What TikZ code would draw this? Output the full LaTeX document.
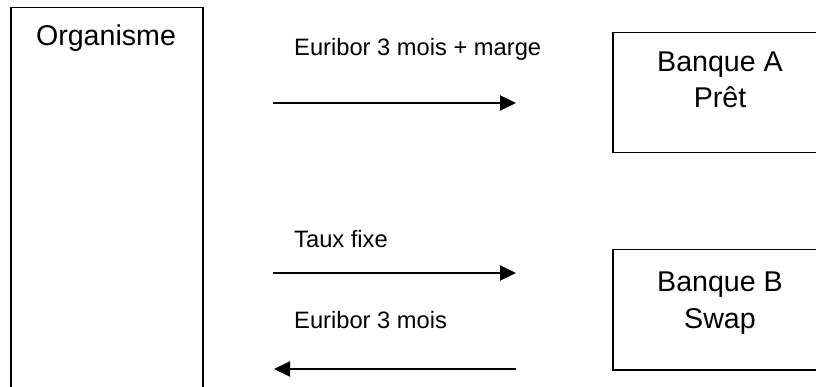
\documentclass[tikz,border=0pt]{standalone}
\usepackage{fontspec}
\setmainfont{Liberation Sans}
\usetikzlibrary{arrows.meta}

\tikzset{
  box/.style={draw, line width=1.5pt, anchor=north west, inner sep=0pt},
  big/.style={font=\fontsize{28.6pt}{36pt}\selectfont, inner sep=0pt},
  small/.style={font=\fontsize{23.7pt}{28pt}\selectfont, inner sep=0pt, anchor=base west},
  flow/.style={line width=2pt, ->}
}

\begin{document}
\begin{tikzpicture}[x=1pt, y=-1pt, >={Triangle[length=16pt, width=15pt]}]
    \clip (0,0) rectangle (816,387);
    % Boxes
    \node[box, minimum width=192pt, minimum height=420pt] (org) at (10,7) {};
    \node[box, minimum width=216pt, minimum height=120pt] (bankA) at (612,32) {};
    \node[box, minimum width=216pt, minimum height=120pt] (bankB) at (612,249) {};

    \node[big, anchor=base] (orgtxt) at (106,46) {Organisme};
    \node[big, anchor=base] (bankAtxt) at (720,72) {Banque A};
    \node[big, anchor=base] (loan) at (720,108) {Prêt};
    \node[big, anchor=base] (bankBtxt) at (720,291) {Banque B};
    \node[big, anchor=base] (swap) at (720,328) {Swap};

    % Flows
    \coordinate (a1) at (273,103);
    \coordinate (a2) at (516,103);
    \coordinate (b1) at (273,273);
    \coordinate (b2) at (516,273);
    \coordinate (c1) at (516,369);
    \coordinate (c2) at (274,369);
    \draw[flow] (a1) -- (a2);
    \draw[flow] (b1) -- (b2);
    \draw[flow] (c1) -- (c2);

    \node[small] (eurmarg) at (294,56) {Euribor 3 mois + marge};
    \node[small] (fixed) at (294,248) {Taux fixe};
    \node[small] (eur) at (294,328) {Euribor 3 mois};
\end{tikzpicture}
\end{document}
